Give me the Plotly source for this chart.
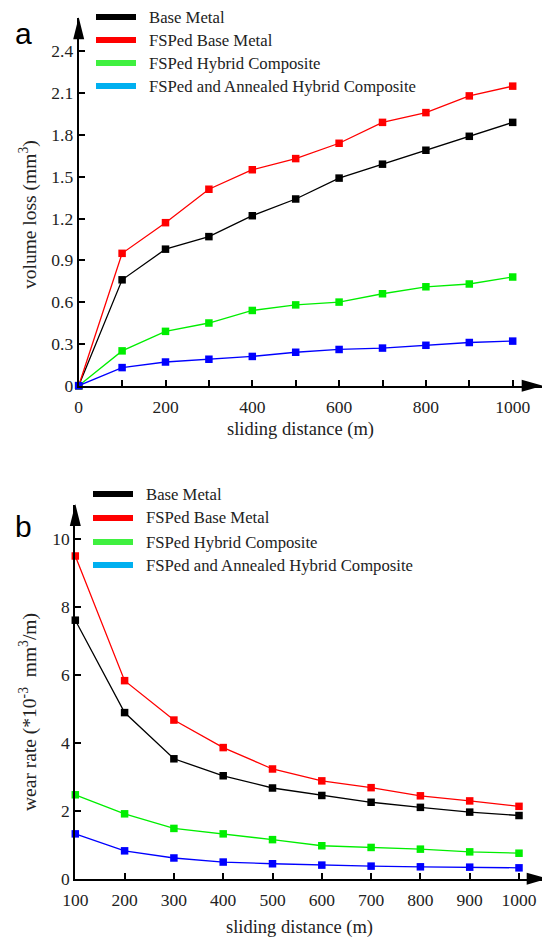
import plotly.graph_objects as go

# ---------------- data ----------------
series_names = ["Base Metal", "FSPed Base Metal", "FSPed Hybrid Composite",
                "FSPed and Annealed Hybrid Composite"]

distance_a = [0, 100, 200, 300, 400, 500, 600, 700, 800, 900, 1000]
vol_base_metal = [0, 0.76, 0.98, 1.07, 1.22, 1.34, 1.49, 1.59, 1.69, 1.79, 1.89]
vol_fsped_base = [0, 0.95, 1.17, 1.41, 1.55, 1.63, 1.74, 1.89, 1.96, 2.08, 2.15]
vol_fsped_hybrid = [0, 0.25, 0.39, 0.45, 0.54, 0.58, 0.60, 0.66, 0.71, 0.73, 0.78]
vol_fsped_annealed = [0, 0.13, 0.17, 0.19, 0.21, 0.24, 0.26, 0.27, 0.29, 0.31, 0.32]

distance_b = [100, 200, 300, 400, 500, 600, 700, 800, 900, 1000]
wear_base_metal = [7.61, 4.89, 3.53, 3.03, 2.67, 2.45, 2.25, 2.10, 1.96, 1.86]
wear_fsped_base = [9.50, 5.83, 4.67, 3.86, 3.23, 2.88, 2.68, 2.44, 2.29, 2.13]
wear_fsped_hybrid = [2.47, 1.91, 1.48, 1.32, 1.15, 0.97, 0.92, 0.87, 0.79, 0.75]
wear_fsped_annealed = [1.32, 0.82, 0.61, 0.49, 0.44, 0.40, 0.37, 0.35, 0.34, 0.32]

ticks_a_y = [0, 0.3, 0.6, 0.9, 1.2, 1.5, 1.8, 2.1, 2.4]
ticklabels_a_y = ["0", "0.3", "0.6", "0.9", "1.2", "1.5", "1.8", "2.1", "2.4"]
ticks_a_x = [0, 200, 400, 600, 800, 1000]
ticklabels_a_x = ["0", "200", "400", "600", "800", "1000"]
minor_ticks_a_x = [100, 300, 500, 700, 900]
ticks_b_y = [0, 2, 4, 6, 8, 10]
ticklabels_b_y = ["0", "2", "4", "6", "8", "10"]
ticks_b_x = [100, 200, 300, 400, 500, 600, 700, 800, 900, 1000]
ticklabels_b_x = ["100", "200", "300", "400", "500", "600", "700", "800", "900", "1000"]

line_colors = ["#000000", "#ff0000", "#00ee00", "#0000ff"]
legend_colors = ["#000000", "#ff0000", "#3ff03f", "#00b0f0"]

# ---------------- figure ----------------
# the page body has an 8px margin, so the figure is drawn 8px in from the window corner
OFF = 8
W, H = 550 - OFF, 940 - OFF
SERIF = "Liberation Serif"
SANS = "Liberation Sans"


def px(x):
    return (x - OFF) / W


def py(y):
    return 1 - (y - OFF) / H


fig = go.Figure()

vols = [vol_base_metal, vol_fsped_base, vol_fsped_hybrid, vol_fsped_annealed]
wears = [wear_base_metal, wear_fsped_base, wear_fsped_hybrid, wear_fsped_annealed]

for name, vals, col in zip(series_names, vols, line_colors):
    fig.add_trace(go.Scatter(x=distance_a, y=vals, name=name, mode="lines+markers",
                             line=dict(color=col, width=1.3),
                             marker=dict(symbol="square", size=7.5, color=col),
                             cliponaxis=False, showlegend=False,
                             xaxis="x", yaxis="y"))
for name, vals, col in zip(series_names, wears, line_colors):
    fig.add_trace(go.Scatter(x=distance_b, y=vals, name=name, mode="lines+markers",
                             line=dict(color=col, width=1.3),
                             marker=dict(symbol="square", size=7.5, color=col),
                             cliponaxis=False, showlegend=False,
                             xaxis="x2", yaxis="y2"))

# axis geometry (window pixels)
A_X0, A_XTIP, A_PER = 78.7, 541.7, 0.434
A_Y0, A_YTIP, A_PERY = 385.7, 18.3, 139.33
B_X0, B_XTIP, B_PER = 75.3, 546.7, 0.493
B_Y0, B_YTIP, B_PERY = 878.7, 505.0, 33.97

a_xmax = (A_XTIP - A_X0) / A_PER
a_ymax = (A_Y0 - A_YTIP) / A_PERY
b_xmax = 100 + (B_XTIP - B_X0) / B_PER
b_ymax = (B_Y0 - B_YTIP) / B_PERY

axis_common = dict(showline=True, linecolor="black", linewidth=2, ticks="inside",
                   ticklen=6, tickwidth=1.5, tickcolor="black", showgrid=False,
                   zeroline=False, mirror=False, automargin=False,
                   tickfont=dict(family=SERIF, size=17.5, color="#222"))

fig.update_layout(
    template="none",
    width=W, height=H,
    margin=dict(l=0, r=0, t=0, b=0, pad=0),
    paper_bgcolor="white", plot_bgcolor="white",
    showlegend=False,
    xaxis=dict(domain=[px(A_X0), px(A_XTIP)], range=[0, a_xmax], anchor="y",
               tickvals=ticks_a_x, ticktext=ticklabels_a_x, ticklabelstandoff=4,
               minor=dict(tickvals=minor_ticks_a_x, ticks="inside", ticklen=6,
                          tickwidth=1.5, tickcolor="black", showgrid=False),
               **axis_common),
    yaxis=dict(domain=[py(A_Y0), py(A_YTIP)], range=[0, a_ymax], anchor="x",
               tickvals=ticks_a_y, ticktext=ticklabels_a_y, **axis_common),
    xaxis2=dict(domain=[px(B_X0), px(B_XTIP)], range=[100, b_xmax], anchor="y2",
                tickvals=ticks_b_x, ticktext=ticklabels_b_x, ticklabelstandoff=4,
                **axis_common),
    yaxis2=dict(domain=[py(B_Y0), py(B_YTIP)], range=[0, b_ymax], anchor="x2",
                tickvals=ticks_b_y, ticktext=ticklabels_b_y, **axis_common),
)

shapes = []
# arrowheads (paper coordinates derived from the axis geometry)
for ax0, ytip in [(A_X0, A_YTIP), (B_X0, B_YTIP)]:
    shapes.append(dict(type="path", xref="paper", yref="paper",
                       path=f"M {px(ax0 - 5.5)},{py(ytip + 21)} L {px(ax0 + 5.5)},{py(ytip + 21)} "
                            f"L {px(ax0)},{py(ytip - 1)} Z",
                       fillcolor="black", line=dict(width=0)))
for xtip, ay0 in [(A_XTIP, A_Y0), (B_XTIP, B_Y0)]:
    shapes.append(dict(type="path", xref="paper", yref="paper",
                       path=f"M {px(xtip - 20)},{py(ay0 - 6)} L {px(xtip - 20)},{py(ay0 + 6)} "
                            f"L {px(xtip + 1)},{py(ay0)} Z",
                       fillcolor="black", line=dict(width=0)))

annotations = []
# manual legends
legend_rows_a = [17, 40, 63, 86]
legend_rows_b = [494, 518, 542, 565]
for rows, lx0, lx1, tx in [(legend_rows_a, 96, 136, 148), (legend_rows_b, 93, 133, 145)]:
    for name, col, yy in zip(series_names, legend_colors, rows):
        shapes.append(dict(type="line", xref="paper", yref="paper",
                           x0=px(lx0), x1=px(lx1), y0=py(yy), y1=py(yy),
                           line=dict(color=col, width=6)))
        annotations.append(dict(text=name, xref="paper", yref="paper", x=px(tx), y=py(yy),
                                xanchor="left", yanchor="middle", showarrow=False,
                                borderpad=0,
                                font=dict(family=SERIF, size=16.7, color="#222")))

# panel letters
annotations.append(dict(text="a", xref="paper", yref="paper", x=px(23), y=py(33),
                        xanchor="center", yanchor="middle", showarrow=False,
                        font=dict(family=SANS, size=30, color="black")))
annotations.append(dict(text="b", xref="paper", yref="paper", x=px(23), y=py(526),
                        xanchor="center", yanchor="middle", showarrow=False,
                        font=dict(family=SANS, size=30, color="black")))

# axis titles
annotations.append(dict(text="sliding distance (m)", xref="paper", yref="paper",
                        x=px(300), y=py(430), xanchor="center", yanchor="middle",
                        showarrow=False, font=dict(family=SERIF, size=18.5, color="#222")))
annotations.append(dict(text="sliding distance (m)", xref="paper", yref="paper",
                        x=px(299), y=py(927), xanchor="center", yanchor="middle",
                        showarrow=False, font=dict(family=SERIF, size=18.5, color="#222")))
annotations.append(dict(text="volume loss (mm<sup>3</sup>)", xref="paper", yref="paper",
                        x=px(28), y=py(215), xanchor="center", yanchor="middle",
                        textangle=-90, showarrow=False,
                        font=dict(family=SERIF, size=19.5, color="#222")))
annotations.append(dict(text="wear rate (*10<sup>-3</sup>  mm<sup>3</sup>/m)", xref="paper",
                        yref="paper", x=px(28), y=py(712), xanchor="center", yanchor="middle",
                        textangle=-90, showarrow=False,
                        font=dict(family=SERIF, size=19.5, color="#222")))

fig.update_layout(shapes=shapes, annotations=annotations)

fig.write_html("out.html")
